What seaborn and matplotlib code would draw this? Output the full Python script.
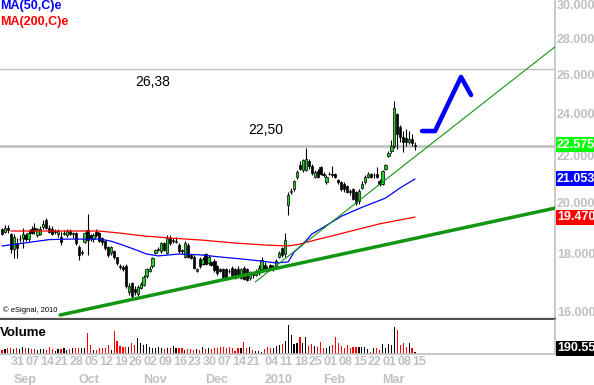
import matplotlib
matplotlib.use('Agg')

import numpy as np
import pandas as pd
import matplotlib.pyplot as plt
import matplotlib.transforms as mtransforms
from matplotlib.ticker import NullLocator
import seaborn as sns

sns.set_theme(style='white')
plt.rcParams['font.family'] = ['Liberation Sans', 'DejaVu Sans']

# --- daily candles, 25 Aug 2009 .. 15 Mar 2010 ---
opens = [19.00, 18.88, 19.02, 18.80, 18.25, 18.45, 18.60, 18.65, 18.75, 18.60,
         19.00, 19.05, 18.75, 18.80, 19.08, 19.35, 19.05, 19.00, 18.88, 18.80,
         18.70, 18.80, 18.75, 18.92, 18.80, 18.85, 18.30, 18.08, 18.50, 18.95,
         18.75, 18.60, 18.90, 18.85, 18.65, 18.55, 18.30, 18.10, 18.15, 17.93,
         17.60, 17.58, 17.62, 16.70, 17.00, 16.80, 16.62, 16.85, 16.95,
         17.25, 17.45, 17.60, 18.10, 18.20, 18.15, 18.45, 18.10, 18.65, 18.55,
         18.50, 18.38, 18.20, 17.95, 18.40, 18.00, 17.95, 17.45, 17.85, 17.70,
         18.05, 17.72, 17.75, 17.80, 17.62, 17.50, 17.50, 17.50, 17.45, 17.55,
         17.50, 17.50, 17.20, 17.55, 17.50, 17.18, 17.35, 17.30, 17.35, 17.50,
         17.65, 17.55, 17.65, 17.52, 17.60, 17.95, 18.27, 18.05,
         19.95, 20.50, 20.60, 21.15, 21.65, 21.45, 21.45, 21.85, 21.60, 21.15,
         21.40, 21.55, 21.25, 20.90, 21.25, 21.25, 21.25, 21.00, 20.90, 20.85,
         20.75, 20.55, 20.60, 20.50, 20.10, 20.65, 20.90, 21.15, 21.25, 21.20,
         21.28, 20.98, 20.85, 21.50, 22.05, 22.30, 22.50, 24.05, 23.40, 22.95,
         22.90, 22.70, 22.85, 22.50]
highs = [19.05, 19.15, 19.15, 18.85, 18.80, 18.65, 18.75, 19.05, 18.85, 18.95,
         19.10, 19.25, 19.05, 19.10, 19.35, 19.45, 19.15, 19.10, 19.00, 19.00,
         18.90, 18.95, 19.00, 19.00, 18.90, 18.90, 18.40, 18.20, 18.90, 19.60,
         18.80, 18.85, 19.00, 18.90, 18.70, 18.60, 18.35, 18.35, 18.20, 17.95,
         17.70, 17.65, 17.70, 17.00, 17.05, 16.90, 16.95, 17.05, 17.30,
         17.55, 17.60, 17.95, 18.25, 18.30, 18.50, 18.50, 18.75, 18.75, 18.65,
         18.70, 18.45, 18.25, 18.55, 18.45, 18.05, 18.00, 17.55, 17.95, 17.95,
         18.10, 18.00, 17.80, 17.85, 17.65, 17.55, 17.55, 17.55, 17.50, 17.60,
         17.55, 17.60, 17.55, 17.60, 17.55, 17.45, 17.40, 17.50, 17.65, 17.95,
         17.75, 17.60, 17.70, 17.65, 17.85, 18.15, 18.30, 18.85,
         20.50, 20.65, 21.00, 21.45, 21.85, 21.95, 22.45, 21.95, 21.70, 21.45,
         21.50, 21.60, 21.35, 21.20, 21.35, 21.60, 21.30, 21.05, 20.95, 20.90,
         20.80, 20.60, 20.65, 20.55, 20.60, 20.95, 21.20, 21.35, 21.30, 21.30,
         21.55, 21.05, 21.45, 21.70, 22.30, 22.80, 24.70, 24.10, 23.50, 23.20,
         23.30, 23.20, 23.10, 22.70]
lows = [18.75, 18.85, 18.85, 18.10, 17.90, 17.90, 18.50, 18.27, 18.55, 18.55,
        18.80, 18.80, 18.70, 18.75, 19.00, 19.00, 18.85, 18.75, 18.80, 18.70,
        18.40, 18.75, 18.70, 18.75, 18.65, 18.40, 17.83, 18.00, 18.45, 18.02,
        18.55, 18.50, 18.70, 18.50, 18.40, 18.20, 17.95, 18.00, 17.85, 17.65,
        17.50, 17.45, 16.85, 16.60, 16.45, 16.60, 16.55, 16.80, 16.90,
        17.20, 17.40, 17.55, 18.05, 18.15, 18.10, 18.15, 18.05, 18.40, 18.45,
        18.45, 18.10, 18.05, 17.90, 17.90, 17.85, 17.50, 17.40, 17.55, 17.65,
        17.65, 17.65, 17.60, 17.40, 17.30, 17.40, 17.15, 17.10, 17.35, 17.20,
        17.15, 17.20, 17.15, 17.12, 17.08, 17.10, 17.20, 17.25, 17.30, 17.45,
        17.45, 17.45, 17.50, 17.45, 17.55, 17.90, 17.95, 17.95,
        19.55, 20.40, 20.55, 21.05, 21.45, 21.35, 21.40, 21.50, 21.20, 21.10,
        21.10, 21.20, 21.15, 20.85, 21.20, 21.15, 21.10, 20.85, 20.55, 20.50,
        20.45, 20.35, 20.15, 19.95, 20.00, 20.60, 20.85, 21.10, 21.10, 21.10,
        21.10, 20.75, 20.80, 21.45, 22.00, 22.20, 22.45, 22.40, 22.70, 22.25,
        22.50, 22.60, 22.50, 22.35]
closes = [18.82, 19.05, 18.96, 18.25, 18.70, 18.28, 18.62, 18.80, 18.60, 18.85,
          18.85, 18.95, 18.98, 19.00, 19.20, 19.05, 18.90, 18.80, 18.90, 18.92,
          18.50, 18.85, 18.92, 18.80, 18.85, 18.45, 18.00, 18.12, 18.85, 18.57,
          18.65, 18.78, 18.78, 18.55, 18.50, 18.28, 18.00, 18.30, 17.93, 17.72,
          17.58, 17.52, 16.90, 16.90, 16.55, 16.70, 16.88, 16.98, 17.22,
          17.50, 17.50, 17.90, 18.20, 18.25, 18.45, 18.20, 18.65, 18.45, 18.55,
          18.52, 18.15, 18.15, 18.45, 17.95, 17.90, 17.55, 17.50, 17.62, 17.88,
          17.70, 17.95, 17.65, 17.47, 17.35, 17.45, 17.22, 17.18, 17.42, 17.28,
          17.20, 17.28, 17.50, 17.15, 17.12, 17.40, 17.30, 17.45, 17.55, 17.83,
          17.50, 17.50, 17.55, 17.58, 17.78, 18.10, 18.02, 18.57,
          20.35, 20.55, 20.95, 21.35, 21.50, 21.90, 21.95, 21.60, 21.30, 21.35,
          21.15, 21.25, 21.22, 21.15, 21.28, 21.22, 21.15, 20.92, 20.60, 20.60,
          20.50, 20.48, 20.20, 20.05, 20.55, 20.85, 21.15, 21.25, 21.15, 21.22,
          21.15, 20.85, 21.40, 21.65, 22.20, 22.50, 24.35, 23.10, 22.95, 22.70,
          22.70, 22.85, 22.65, 22.575]
volumes = [330, 415, 470, 470, 415, 470, 390, 580, 520, 470,
           390, 390, 330, 390, 390, 330, 555, 390, 290, 390,
           390, 470, 330, 390, 470, 520, 470, 470, 470, 1720,
           750, 330, 330, 470, 520, 470, 750, 330, 1930, 1100,
           660, 600, 600, 600, 940, 750, 1300, 940, 750, 830,
           555, 470, 470, 600, 520, 390, 470, 470, 660, 470,
           470, 470, 330, 390, 390, 330, 390, 330, 600, 390,
           470, 390, 470, 470, 600, 555, 470, 555, 470, 280,
           470, 470, 1020, 470, 555, 330, 280, 280, 190, 415,
           555, 470, 470, 660, 750, 830, 1100, 2400, 1580, 830,
           890, 1410, 910, 1410, 660, 830, 660, 600, 1000, 470,
           470, 690, 750, 1390, 890, 660, 470, 750, 470, 600,
           600, 600, 555, 600, 390, 190, 520, 520, 330, 830,
           470, 830, 750, 2220, 1990, 750, 890, 555, 940, 470,
           190.55]

# moving averages (candle index, value)
ma50_idx = [0, 5, 10, 16, 22, 33, 37, 41, 45, 49, 53, 60, 67, 74, 81, 88, 93,
            97, 99, 102, 105, 109, 115, 122, 130, 135, 140]
ma50_val = [18.35, 18.42, 18.50, 18.59, 18.61, 18.61, 18.53, 18.38, 18.22, 18.05,
            17.98, 18.05, 18.02, 17.94, 17.87, 17.79, 17.72, 17.76, 18.12, 18.42,
            18.80, 19.07, 19.50, 19.86, 20.24, 20.67, 21.05]
ma200_idx = [3, 33, 40, 48, 57, 68, 79, 90, 97, 101, 106, 117, 128, 140]
ma200_val = [18.92, 18.92, 18.84, 18.73, 18.65, 18.57, 18.46, 18.38, 18.35, 18.42,
             18.57, 18.88, 19.20, 19.47]

# hand-drawn lines (candle index, price)
support_x = [19.7, 187.5]
support_y = [15.93, 19.83]
channel_x = [85.8, 187.5]
channel_y = [17.04, 27.6]
arrow_x = [142.4, 146.8, 155.6, 159.0]
arrow_y = [23.22, 23.22, 25.94, 25.00]

levels = [26.38, 22.50]
level_text = ['26,38', '22,50']
price_ticks = [16, 18, 20, 22, 24, 26, 28, 30]
last_labels = ['22.575', '21.053', '19.470']
last_values = [22.575, 21.053, 19.470]
last_colors = ['#00ff00', '#0000ff', '#ff0000']

holidays = pd.to_datetime(['2009-12-24', '2009-12-25', '2009-12-31', '2010-01-01'])
dates = pd.bdate_range('2009-08-25', '2010-03-15')
dates = dates[~dates.isin(holidays)]

W, H = 594, 385
GRAY = '#c0c0c0'
fig = plt.figure(figsize=(W / 100, H / 100), dpi=100)
ax = fig.add_axes([0, (H - 319) / H, 555 / W, 319 / H])
axv = fig.add_axes([0, (H - 354) / H, 555 / W, 34 / H])

x = np.arange(len(closes))
o = np.array(opens)
c = np.array(closes)
up = c >= o

ax.set_yscale('log')
for lv, lw in zip(levels, [1.0, 1.9]):
    ax.axhline(lv, color=GRAY, lw=lw, zorder=1)

# candles
ax.vlines(x, lows, highs, color='black', lw=0.8, zorder=2)
body_h = np.maximum(np.abs(c - o), 0.03)
ax.bar(x, body_h, bottom=np.minimum(o, c), width=0.75,
       color=np.where(up, '#22d022', 'black'), edgecolor='black',
       linewidth=0.5, zorder=3)

sns.lineplot(x=ma50_idx, y=ma50_val, ax=ax, color='#0000ff', lw=0.9, zorder=4)
sns.lineplot(x=ma200_idx, y=ma200_val, ax=ax, color='#ff0000', lw=0.9, zorder=4)
sns.lineplot(x=support_x, y=support_y, ax=ax, color='#129612', lw=2.5, zorder=5)
sns.lineplot(x=channel_x, y=channel_y, ax=ax, color='#129612', lw=0.8, zorder=5)
sns.lineplot(x=arrow_x, y=arrow_y, ax=ax, color='#0000ff', lw=3.3, sort=False, zorder=5)

ax.text(51.2, 25.67, level_text[0], ha='center', va='center', fontsize=10, color='black')
ax.text(89.5, 23.27, level_text[1], ha='center', va='center', fontsize=10, color='black')
ax.text(0.5, 16.09, '\u00a9 eSignal, 2010', ha='left', va='center', fontsize=5.5, color='black')

xlim = (-0.68, 187.46)
ax.set_xlim(*xlim)
ax.set_ylim(15.80, 30.37)
ax.set_xticks([])
ax.set_yticks([])
ax.yaxis.set_minor_locator(NullLocator())
ax.set_xlabel('')
ax.set_ylabel('')
for s in ['top', 'left']:
    ax.spines[s].set_visible(False)
ax.spines['right'].set_color(GRAY)
ax.spines['right'].set_linewidth(1.2)
ax.spines['bottom'].set_color('#505050')
ax.spines['bottom'].set_linewidth(1.6)

# right price scale
tr = mtransforms.blended_transform_factory(ax.transAxes, ax.transData)
for p in price_ticks:
    ax.text(1.0 + 2 / 555, p, f'{p:.3f}', transform=tr, ha='left', va='center',
            color=GRAY, fontsize=9, fontweight='bold', clip_on=False)
for lab, val, col in zip(last_labels, last_values, last_colors):
    ax.text(1.0 + 2 / 555, val, lab, transform=tr, ha='left', va='center',
            color='white', fontsize=9, fontweight='bold', clip_on=False, zorder=6,
            bbox=dict(boxstyle='square,pad=0.12', fc=col, ec='none'))

# volume panel
axv.bar(x, volumes, width=0.4, color=np.where(up, 'black', '#ff0000'), linewidth=0)
axv.set_xlim(*xlim)
axv.set_ylim(0, 2822)
axv.set_xticks([])
axv.set_yticks([])
for s in ['top', 'left']:
    axv.spines[s].set_visible(False)
for s in ['right', 'bottom']:
    axv.spines[s].set_color(GRAY)
    axv.spines[s].set_linewidth(1.2)
axv.text(1.0 + 2 / 555, 0.17, f'{volumes[-1]:.2f}', transform=axv.transAxes,
         ha='left', va='center', color='white', fontsize=9, fontweight='bold',
         clip_on=False, bbox=dict(boxstyle='square,pad=0.12', fc='black', ec='none'))

# top-left legend and panel title
fig.text(0, 1 - 6.5 / H, 'MA(50,C)e', color='#0000ff', fontsize=9, fontweight='bold', va='center')
fig.text(0, 1 - 22.5 / H, 'MA(200,C)e', color='#ff0000', fontsize=9, fontweight='bold', va='center')
fig.text(0, 1 - 333 / H, 'Volume', color='black', fontsize=9.5, fontweight='bold', va='center')

# date axis: weekly mondays (skip one that crowds the previous label) and months
tb = mtransforms.blended_transform_factory(ax.transData, fig.transFigure)
mondays = [i for i, d in enumerate(dates) if d.dayofweek == 0]
last_kept = -10
for i in mondays:
    if i - last_kept < 4:
        continue
    last_kept = i
    fig.text(i - 1, 1 - 362 / H, f'{dates[i].day:02d}', transform=tb, ha='left',
             va='center', color=GRAY, fontsize=9, fontweight='bold')
for i in range(1, len(dates)):
    if dates[i].month != dates[i - 1].month:
        lab = str(dates[i].year) if dates[i].month == 1 else dates[i].strftime('%b')
        fig.text(i - 1, 1 - 380 / H, lab, transform=tb, ha='left', va='center',
                 color=GRAY, fontsize=9, fontweight='bold')

fig.savefig('out.png', dpi=100, facecolor='white')
